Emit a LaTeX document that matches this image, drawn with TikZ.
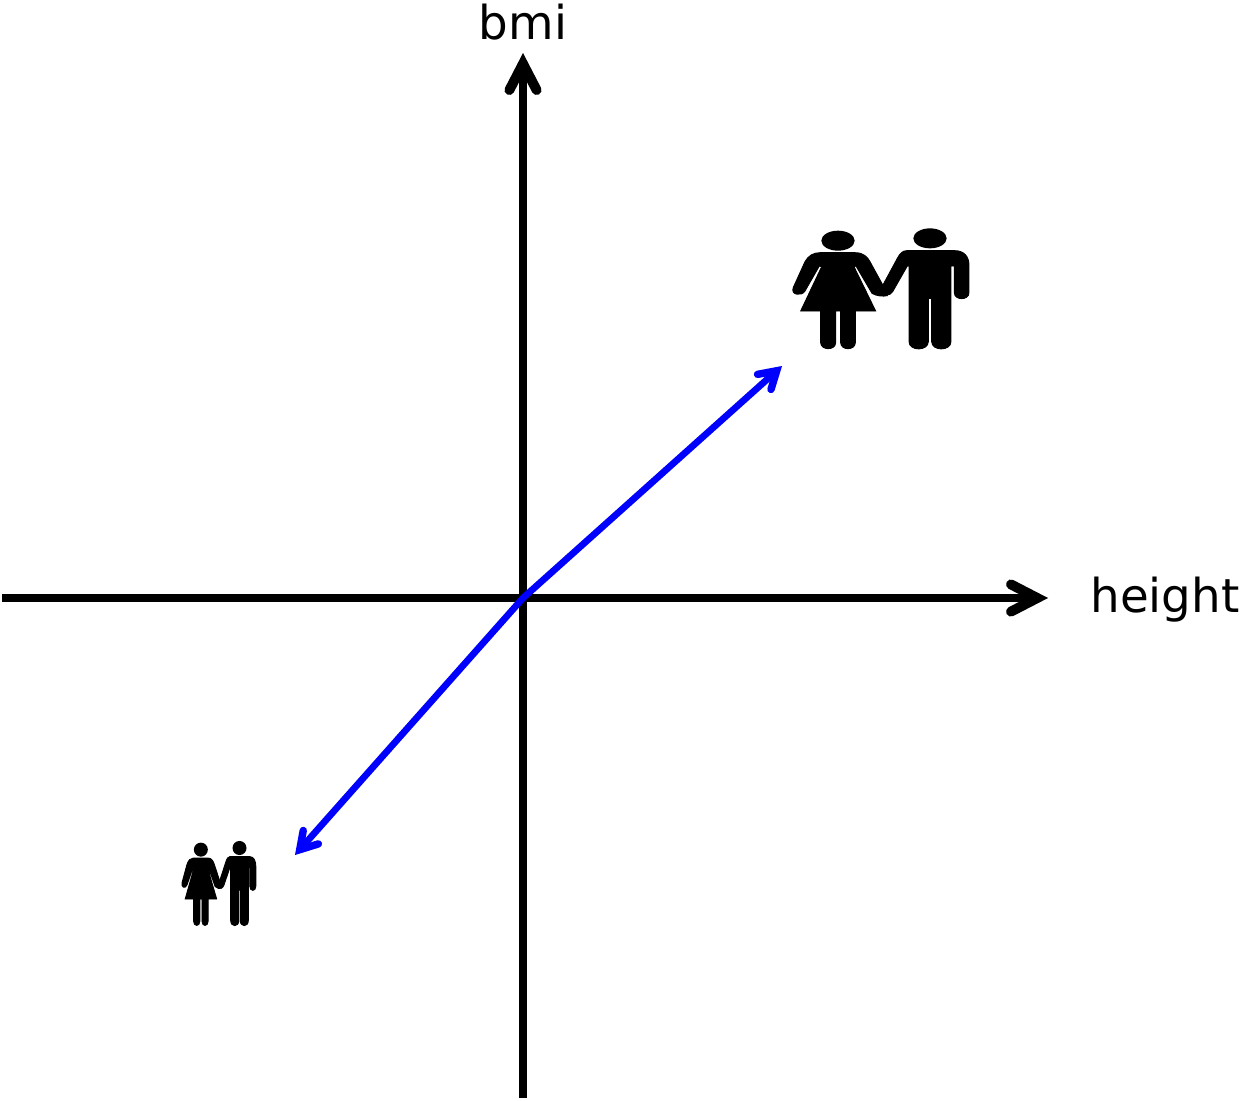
\documentclass[tikz,border=0pt]{standalone}
\usepackage{fontspec}
\setmainfont{DejaVu Sans}
\usetikzlibrary{arrows.meta}
\tikzset{
  axisline/.style={line width=4.5pt, -{Straight Barb[length=15pt, width=15.5pt, line width=5.6pt, line cap=round, line join=miter]}},
  axisshadow/.style={axisline, draw=black, opacity=0.15, shift={(1.5,4)}},
  axislabel/.style={font=\fontsize{26.6pt}{30pt}\selectfont, inner sep=0pt, text=black},
  bluearrow/.style={line width=3.8pt, draw=blue, {Straight Barb[length=9.5pt, width=11.5pt, line width=4.2pt, line cap=round, line join=miter]}-{Straight Barb[length=9.5pt, width=11.5pt, line width=4.2pt, line cap=round, line join=miter]}},
  blueshadow/.style={bluearrow, draw=black, opacity=0.15, shift={(1.5,4)}},
  couple/.pic={
    % --- hai cai dau ---
    \fill (204,92) ellipse (50 and 30);
    \fill (480,85) ellipse (50 and 30);
    % --- nguoi nu ---
    \filldraw[line width=0.5pt] (150,128) -- (255,128) .. controls (280,128) and (292,140) .. (300,155)
      -- (340,228) -- (352,257) .. controls (340,260) and (318,258) .. (306,250)
      -- (258,168) -- (252,170) -- (317,303) -- (256,303) -- (256,398)
      .. controls (256,422) and (212,422) .. (212,398) -- (212,303) -- (197,303) -- (197,398)
      .. controls (197,422) and (152,422) .. (152,398) -- (152,303) -- (92,303)
      -- (155,170) -- (148,168) -- (105,243)
      .. controls (95,260) and (60,255) .. (70,232) -- (105,155)
      .. controls (115,137) and (130,128) .. (150,128) -- cycle;
    % --- nguoi nam ---
    \filldraw[line width=0.5pt] (410,122) -- (555,122) .. controls (582,122) and (597,140) .. (597,165) -- (597,248)
      .. controls (597,272) and (553,272) .. (553,248) -- (553,168) -- (543,168) -- (543,395)
      .. controls (543,424) and (485,424) .. (485,395) -- (485,265) -- (475,265) -- (475,395)
      .. controls (475,424) and (417,424) .. (417,395) -- (417,168) -- (412,168) -- (368,245)
      .. controls (360,258) and (340,260) .. (332,245) -- (335,232) -- (382,145)
      .. controls (390,130) and (398,122) .. (410,122) -- cycle;
  }
}
\begin{document}
\begin{tikzpicture}[x=0.02cm, y=-0.02cm]
  \useasboundingbox (0,0) rectangle (1243,1100);
  % --- truc toa do ---
  \coordinate (O) at (523,598);
  \coordinate (xLeft) at (2,598);
  \coordinate (xRight) at (1048,598);
  \coordinate (yBottom) at (523,1098);
  \coordinate (yTop) at (523,53);
  \coordinate (tallEnd) at (782,366);
  \coordinate (shortEnd) at (295,855);
  % bong mo
  \draw[axisshadow] (xLeft) -- (xRight);
  \draw[axisshadow] (yBottom) -- (yTop);
  \draw[blueshadow] (shortEnd) -- (O) -- (tallEnd);
  \draw[axisline] (xLeft) -- (xRight);
  \draw[axisline] (yBottom) -- (yTop);
  \node[axislabel] (bmiLabel) at (523,22.5) {bmi};
  \node[axislabel, anchor=west] (heightLabel) at (1090,600) {height};

  % --- mui ten xanh ---
  \draw[bluearrow] (shortEnd) -- (O) -- (tallEnd);

  % --- hai cap nguoi ---
  \pic[xscale=0.3333, yscale=0.3333] (tallCouple) at (770,210) {couple};
  \pic[xscale=0.14, yscale=0.234] (shortCouple) at (172.3,828.1) {couple};
\end{tikzpicture}
\end{document}
